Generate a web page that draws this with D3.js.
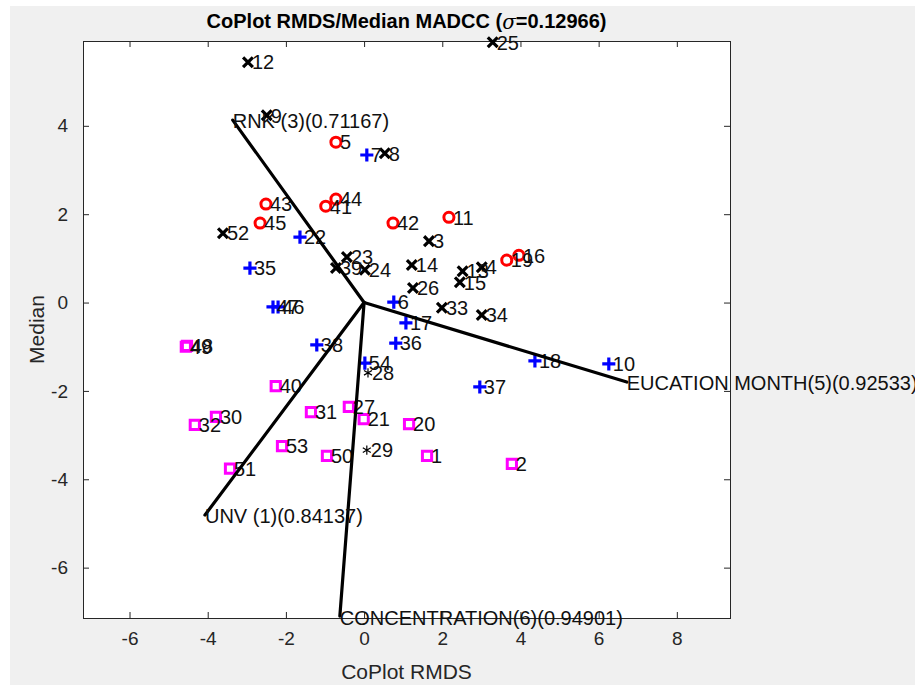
<!DOCTYPE html>
<html>
<head>
<meta charset="utf-8">
<script src="https://cdn.jsdelivr.net/npm/d3@7"></script>
<style>
  html, body { margin: 0; padding: 0; background: #ffffff; }
  svg text { font-family: "Liberation Sans", Arial, Helvetica, sans-serif; }
</style>
</head>
<body>
<script>
// observations, grouped by cluster: [id, rmds x, median y]
var crossPts = [
    [12, -2.97, 5.44], [9, -2.49, 4.24], [25, 3.29, 5.89], [8, 0.53, 3.38],
    [52, -3.61, 1.57], [23, -0.44, 1.03], [39, -0.72, 0.78], [24, 0.02, 0.74],
    [3, 1.66, 1.39], [14, 1.22, 0.85], [26, 1.25, 0.33], [33, 1.99, -0.12],
    [34, 3.01, -0.28], [13, 2.52, 0.71], [15, 2.45, 0.46], [4, 3.01, 0.80]
];
var circlePts = [
    [5, -0.72, 3.63], [43, -2.51, 2.23], [45, -2.66, 1.80], [44, -0.72, 2.34],
    [41, -0.98, 2.18], [42, 0.74, 1.80], [11, 2.17, 1.93], [19, 3.65, 0.96],
    [16, 3.96, 1.07]
];
var plusPts = [
    [7, 0.07, 3.34], [22, -1.64, 1.48], [35, -2.92, 0.78], [47, -2.33, -0.10],
    [46, -2.20, -0.10], [6, 0.76, 0.01], [17, 1.07, -0.46], [38, -1.21, -0.96],
    [36, 0.81, -0.92], [54, 0.02, -1.37], [18, 4.37, -1.32], [10, 6.26, -1.39],
    [37, 2.96, -1.91]
];
var squarePts = [
    [49, -4.56, -1.00], [48, -4.53, -0.98], [40, -2.26, -1.89], [30, -3.79, -2.59],
    [32, -4.33, -2.77], [31, -1.36, -2.48], [27, -0.39, -2.36], [21, -0.01, -2.64],
    [20, 1.15, -2.75], [53, -2.10, -3.25], [50, -0.95, -3.47], [1, 1.61, -3.47],
    [2, 3.78, -3.65], [51, -3.43, -3.76]
];
var starPts = [
    [28, 0.10, -1.59], [29, 0.07, -3.34]
];

// variable arrows from the origin
var arrowNames = ['RNK (3)(0.71167)', 'EUCATION MONTH(5)(0.92533)', 'UNV (1)(0.84137)', 'CONCENTRATION(6)(0.94901)'];
var arrowX = [-3.36, 6.72, -4.07, -0.62];
var arrowY = [4.13, -1.80, -4.81, -7.10];

var xTicks = [-6, -4, -2, 0, 2, 4, 6, 8];
var yTicks = [-6, -4, -2, 0, 2, 4];

var W = 915, H = 685;
var box = { left: 83, right: 730, top: 41, bottom: 618 };

var xScale = d3.scaleLinear().domain([-7.19, 9.36]).range([box.left, box.right]);
var yScale = d3.scaleLinear().domain([-7.14, 5.92]).range([box.bottom, box.top]);

var svg = d3.select('body')
    .append('svg')
    .attr('width', W)
    .attr('height', H);

// figure background and white axes area
svg.append('rect').attr('x', 10).attr('y', 6).attr('width', W - 10).attr('height', H - 6).attr('fill', '#f0f0f0');
svg.append('rect')
    .attr('x', box.left).attr('y', box.top)
    .attr('width', box.right - box.left).attr('height', box.bottom - box.top)
    .attr('fill', '#ffffff');

var axisColor = '#262626';
var fmt = function (d) { return String(d); };

function styleAxis(g) {
    g.select('.domain').remove();
    g.selectAll('line').attr('stroke', axisColor);
    g.selectAll('text').attr('fill', axisColor).style('font-size', '19px')
        .style('font-family', '"Liberation Sans", Arial, sans-serif');
}

// ticks point inward on all four sides
svg.append('g')
    .attr('transform', 'translate(0,' + box.bottom + ')')
    .call(d3.axisBottom(xScale).tickValues(xTicks).tickSize(-6).tickPadding(14).tickFormat(fmt))
    .call(styleAxis);
svg.append('g')
    .attr('transform', 'translate(0,' + box.top + ')')
    .call(d3.axisTop(xScale).tickValues(xTicks).tickSize(-6).tickFormat(''))
    .call(styleAxis);
svg.append('g')
    .attr('transform', 'translate(' + box.left + ',0)')
    .call(d3.axisLeft(yScale).tickValues(yTicks).tickSize(-6).tickPadding(15).tickFormat(fmt))
    .call(styleAxis);
svg.append('g')
    .attr('transform', 'translate(' + box.right + ',0)')
    .call(d3.axisRight(yScale).tickValues(yTicks).tickSize(-6).tickFormat(''))
    .call(styleAxis);

svg.append('rect')
    .attr('x', box.left + 0.5).attr('y', box.top + 0.5)
    .attr('width', box.right - box.left).attr('height', box.bottom - box.top)
    .attr('fill', 'none').attr('stroke', axisColor).attr('stroke-width', 1);

// markers
function drawGroup(data, type, size, color, width) {
    var sym = d3.symbol().type(type).size(size);
    svg.append('g')
        .selectAll('path')
        .data(data)
        .join('path')
        .attr('d', sym)
        .attr('transform', function (d) { return 'translate(' + xScale(d[1]) + ',' + yScale(d[2]) + ')'; })
        .attr('fill', 'none')
        .attr('stroke', color)
        .attr('stroke-width', width);
}

drawGroup(crossPts, d3.symbolTimes, 64, '#000000', 3.2);
drawGroup(circlePts, d3.symbolCircle, 80, '#ff0000', 3);
drawGroup(plusPts, d3.symbolPlus, 58, '#0000ff', 3.2);
drawGroup(squarePts, d3.symbolSquare2, 108, '#ff00ff', 3);
drawGroup(starPts, d3.symbolAsterisk, 60, '#000000', 1.2);

// point labels
var allPts = [].concat(crossPts, circlePts, plusPts, squarePts, starPts);
svg.append('g')
    .selectAll('text')
    .data(allPts)
    .join('text')
    .attr('x', function (d) { return xScale(d[1]) + 4; })
    .attr('y', function (d) { return yScale(d[2]) + 2; })
    .attr('dominant-baseline', 'middle')
    .style('font-size', '20px')
    .attr('fill', '#111111')
    .text(function (d) { return d[0]; });

// arrows
var origin = [xScale(0), yScale(0)];
svg.append('g')
    .selectAll('line')
    .data(arrowNames)
    .join('line')
    .attr('x1', origin[0])
    .attr('y1', origin[1])
    .attr('x2', function (d, i) { return xScale(arrowX[i]); })
    .attr('y2', function (d, i) { return yScale(arrowY[i]); })
    .attr('stroke', '#000000')
    .attr('stroke-width', 3.2)
    .attr('stroke-linecap', 'round');

svg.append('g')
    .selectAll('text')
    .data(arrowNames)
    .join('text')
    .attr('x', function (d, i) { return xScale(arrowX[i]); })
    .attr('y', function (d, i) { return yScale(arrowY[i]) + 3; })
    .attr('dominant-baseline', 'middle')
    .style('font-size', '20px')
    .attr('fill', '#111111')
    .text(function (d) { return d; });

// title and axis labels
var title = svg.append('text')
    .attr('x', (box.left + box.right) / 2)
    .attr('y', 23)
    .attr('text-anchor', 'middle')
    .attr('dominant-baseline', 'middle')
    .style('font-size', '20px')
    .style('font-weight', 'bold')
    .attr('fill', '#000000');
title.append('tspan').text('CoPlot RMDS/Median MADCC (');
title.append('tspan').style('font-style', 'italic').style('font-weight', 'normal')
    .style('font-family', '"DejaVu Serif", "Liberation Serif", serif').text('σ');
title.append('tspan').text('=0.12966)');

svg.append('text')
    .attr('x', (box.left + box.right) / 2)
    .attr('y', 673)
    .attr('text-anchor', 'middle')
    .attr('dominant-baseline', 'middle')
    .style('font-size', '21px')
    .attr('fill', axisColor)
    .text('CoPlot RMDS');

svg.append('text')
    .attr('transform', 'translate(38,' + ((box.top + box.bottom) / 2) + ') rotate(-90)')
    .attr('text-anchor', 'middle')
    .attr('dominant-baseline', 'middle')
    .style('font-size', '21px')
    .attr('fill', axisColor)
    .text('Median');
</script>
</body>
</html>
